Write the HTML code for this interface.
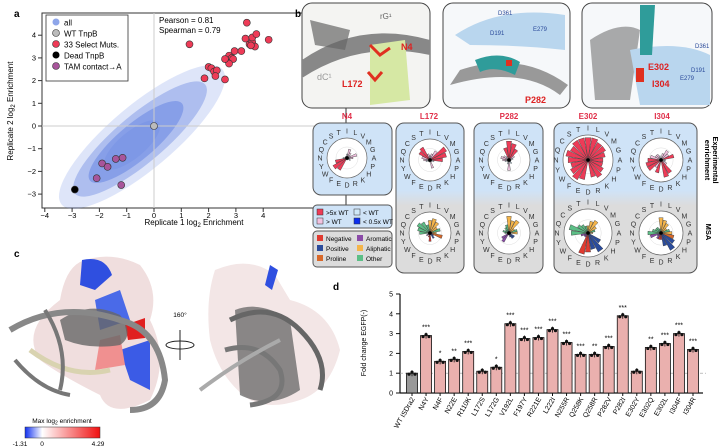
<!DOCTYPE html>
<html><head><meta charset="utf-8">
<style>
body{margin:0;background:#fff;font-family:"Liberation Sans",sans-serif;}
svg{display:block}
text{font-family:"Liberation Sans",sans-serif;}
</style></head>
<body>
<svg id="fig" width="720" height="448" viewBox="0 0 720 448">
<!-- Panel a -->
<g id="pa">
<text x="14" y="17" font-size="10" font-weight="bold">a</text>
<rect x="42" y="13" width="304" height="195" fill="none" stroke="#333" stroke-width="1"/>
<g id="cloud" fill="#7d97e6">
<ellipse cx="142" cy="137" rx="105" ry="32" transform="rotate(-40 142 137)" opacity="0.25"/>
<ellipse cx="140" cy="139" rx="85" ry="24" transform="rotate(-40 140 139)" opacity="0.5"/>
<ellipse cx="136" cy="142" rx="60" ry="18" transform="rotate(-40 136 142)" opacity="0.8"/>
<ellipse cx="132" cy="145" rx="35" ry="13" transform="rotate(-40 132 145)" opacity="0.9"/>
</g>
<g id="a-axes"></g>
<g id="a-pts"></g>
<g>
<rect x="46" y="15" width="82" height="66" fill="#fff" stroke="#333" stroke-width="0.8"/>
<circle cx="56" cy="22" r="3.5" fill="#8ea6ea"/><text x="64" y="25.5" font-size="8">all</text>
<circle cx="56" cy="33" r="3.5" fill="#bbb" stroke="#333" stroke-width="0.6"/><text x="64" y="36.5" font-size="8">WT TnpB</text>
<circle cx="56" cy="44" r="3.5" fill="#ee3b57" stroke="#333" stroke-width="0.6"/><text x="64" y="47.5" font-size="8">33 Select Muts.</text>
<circle cx="56" cy="55" r="3.5" fill="#000"/><text x="64" y="58.5" font-size="8">Dead TnpB</text>
<circle cx="56" cy="66" r="3.5" fill="#a8559b" stroke="#333" stroke-width="0.6"/><text x="64" y="69.5" font-size="8">TAM contact→A</text>
</g>
<text x="159" y="23" font-size="8">Pearson = 0.81</text>
<text x="159" y="33" font-size="8">Spearman = 0.79</text>
<text x="194" y="225" font-size="8" text-anchor="middle">Replicate 1 log<tspan font-size="6" dy="2">2</tspan><tspan dy="-2"> Enrichment</tspan></text>
<text transform="translate(13 111) rotate(-90)" font-size="8" text-anchor="middle">Replicate 2 log<tspan font-size="6" dy="2">2</tspan><tspan dy="-2"> Enrichment</tspan></text>
</g>

<!-- Panel b -->
<g>
<text x="295" y="17" font-size="10" font-weight="bold">b</text>
<g>
<rect x="302" y="3" width="128" height="105" rx="10" fill="#f4f4f2" stroke="#444"/>
<path d="M302 60 Q360 20 430 40 L430 55 Q360 40 302 78Z" fill="#888"/>
<path d="M310 20 L350 30 L345 50 L315 45Z" fill="#666" opacity="0.7"/>
<path d="M370 45 L405 40 L410 100 L370 105Z" fill="#d6e8a4"/>
<path d="M370 45 L380 55 L390 48" stroke="#e03020" stroke-width="3" fill="none"/>
<path d="M368 72 L375 80 L382 72" stroke="#e03020" stroke-width="3" fill="none"/>
<text x="380" y="19" font-size="8" fill="#666">rG¹</text>
<text x="317" y="80" font-size="9" fill="#999">dC¹</text>
<text x="401" y="50" font-size="9" fill="#d22" font-weight="bold">N4</text>
<text x="342" y="87" font-size="9" fill="#d22" font-weight="bold">L172</text>
</g>
<g>
<rect x="443" y="3" width="127" height="105" rx="10" fill="#f6f8fa" stroke="#444"/>
<path d="M455 35 Q500 5 565 15 L565 50 Q520 45 470 45Z" fill="#b9d6ee"/>
<path d="M460 70 Q520 50 568 85 L560 95 Q520 65 450 85Z" fill="#999"/>
<path d="M475 60 Q500 50 520 62 L515 75 Q495 65 480 72Z" fill="#2f9c9a"/>
<rect x="506" y="60" width="6" height="6" fill="#e03020"/>
<text x="525" y="103" font-size="9" fill="#d22" font-weight="bold">P282</text>
<text x="490" y="35" font-size="6" fill="#2a4a9a">D191</text>
<text x="533" y="31" font-size="6" fill="#2a4a9a">E279</text>
<text x="498" y="15" font-size="6" fill="#2a4a9a">D361</text>
</g>
<g>
<rect x="582" y="3" width="130" height="105" rx="10" fill="#f6f8fa" stroke="#444"/>
<path d="M590 40 Q620 20 640 30 L630 100 L595 100Z" fill="#888" opacity="0.7"/>
<path d="M630 50 Q680 40 710 55 L710 105 L640 105Z" fill="#b9d6ee"/>
<path d="M640 5 L655 5 L652 55 L640 55Z" fill="#2f9c9a"/>
<rect x="636" y="68" width="8" height="14" fill="#e03020"/>
<text x="648" y="70" font-size="9" fill="#d22" font-weight="bold">E302</text>
<text x="652" y="87" font-size="9" fill="#d22" font-weight="bold">I304</text>
<text x="695" y="48" font-size="6" fill="#2a4a9a">D361</text>
<text x="691" y="72" font-size="6" fill="#2a4a9a">D191</text>
<text x="680" y="80" font-size="6" fill="#2a4a9a">E279</text>
</g>
<defs><linearGradient id="bg" x1="0" y1="0" x2="0" y2="1"><stop offset="0" stop-color="#cfe3f7"/><stop offset="0.45" stop-color="#cfe3f7"/><stop offset="0.55" stop-color="#dcdcdc"/><stop offset="1" stop-color="#dcdcdc"/></linearGradient></defs>
<rect x="313" y="123" width="79" height="72" rx="8" fill="#cfe3f7" stroke="#555"/>
<rect x="396" y="123" width="68" height="150" rx="8" fill="url(#bg)" stroke="#555"/>
<rect x="474" y="123" width="69" height="150" rx="8" fill="url(#bg)" stroke="#555"/>
<rect x="554" y="123" width="143" height="150" rx="8" fill="url(#bg)" stroke="#555"/>
<g font-size="8" font-weight="bold" fill="#e0304a" text-anchor="middle">
<text x="347" y="119">N4</text>
<text x="429" y="119">L172</text>
<text x="509" y="119">P282</text>
<text x="588" y="119">E302</text>
<text x="662" y="119">I304</text>
</g>
<text transform="translate(713 160) rotate(90)" font-size="7.5" font-weight="bold" text-anchor="middle">Experimental</text>
<text transform="translate(705 160) rotate(90)" font-size="7.5" font-weight="bold" text-anchor="middle">enrichment</text>
<text transform="translate(706 232) rotate(90)" font-size="7.5" font-weight="bold" text-anchor="middle">MSA</text>
<g id="polars"></g>
<g font-size="6.5">
<rect x="313" y="205" width="79" height="23" rx="4" fill="#cfe3f7" stroke="#555"/>
<rect x="317" y="209" width="6" height="6" fill="#ee3b57" stroke="#333" stroke-width="0.5"/><text x="326" y="215">&gt;5x WT</text>
<rect x="354" y="209" width="6" height="6" fill="#cfe8f8" stroke="#333" stroke-width="0.5"/><text x="363" y="215">&lt; WT</text>
<rect x="317" y="218" width="6" height="6" fill="#f2c2e0" stroke="#333" stroke-width="0.5"/><text x="326" y="224">&gt; WT</text>
<rect x="354" y="218" width="6" height="6" fill="#0b2eef" stroke="#333" stroke-width="0.5"/><text x="363" y="224">&lt; 0.5x WT</text>
</g>
<g font-size="6.5">
<rect x="313" y="231" width="79" height="36" rx="4" fill="#dcdcdc" stroke="#555"/>
<rect x="317" y="235" width="6" height="6" fill="#e03a30"/><text x="326" y="241">Negative</text>
<rect x="357" y="235" width="6" height="6" fill="#8a4aa8"/><text x="366" y="241">Aromatic</text>
<rect x="317" y="245" width="6" height="6" fill="#2b4c9c"/><text x="326" y="251">Positive</text>
<rect x="357" y="245" width="6" height="6" fill="#f5b54a"/><text x="366" y="251">Aliphatic</text>
<rect x="317" y="255" width="6" height="6" fill="#d8682a"/><text x="326" y="261">Proline</text>
<rect x="357" y="255" width="6" height="6" fill="#5cbf86"/><text x="366" y="261">Other</text>
</g>
</g>

<!-- Panel c -->
<g>
<text x="14" y="257" font-size="10" font-weight="bold">c</text>
<g>
<path d="M80 262 Q110 250 140 265 Q160 290 150 320 Q170 360 150 400 Q110 420 100 395 Q60 375 40 360 Q20 330 60 300 Q65 270 80 262Z" fill="#f0dede"/>
<path d="M82 260 Q105 255 112 275 L95 290 L80 285Z" fill="#2f4fe0"/>
<path d="M95 300 L120 290 L130 320 L100 330Z" fill="#4a6ae8"/>
<path d="M120 350 L150 340 L150 390 L130 380Z" fill="#3b5be6"/>
<path d="M100 340 L120 335 L125 365 L95 370Z" fill="#f09090"/>
<path d="M125 325 L145 318 L145 338 L128 340Z" fill="#e02020"/>
<path d="M60 320 Q90 300 120 315 Q135 335 120 345 Q90 350 65 340Z" fill="#666" opacity="0.8"/>
<path d="M10 330 Q60 300 120 320 Q160 330 165 380 Q160 410 130 410" stroke="#888" stroke-width="6" fill="none"/>
<path d="M30 350 Q70 380 110 370" stroke="#d9d3b0" stroke-width="5" fill="none"/>
<path d="M45 310 Q70 350 60 390" stroke="#777" stroke-width="4" fill="none"/>
<path d="M15 360 Q40 390 70 395" stroke="#777" stroke-width="4" fill="none"/>
</g>
<text x="180" y="317" font-size="6.5" text-anchor="middle">160°</text>
<ellipse cx="180" cy="345" rx="14" ry="4" fill="none" stroke="#222"/>
<line x1="180" y1="330" x2="180" y2="360" stroke="#222"/>
<g>
<path d="M215 270 Q250 255 275 275 L290 300 Q330 310 340 350 Q330 390 300 400 Q270 410 250 400 Q220 380 210 340 Q205 300 215 270Z" fill="#f3e6e6"/>
<path d="M270 265 L278 270 L272 290 L265 285Z" fill="#2f4fe0"/>
<path d="M235 310 Q260 300 290 320 L300 390 Q270 410 240 395Z" fill="#666" opacity="0.75"/>
<path d="M230 320 Q270 300 300 330 Q330 360 320 390" stroke="#666" stroke-width="5" fill="none"/>
<path d="M225 350 Q260 340 280 370 Q290 400 250 405" stroke="#777" stroke-width="5" fill="none"/>
<path d="M200 390 Q240 360 280 340" stroke="#aaa" stroke-width="4" fill="none"/>
</g>
<defs><linearGradient id="cb"><stop offset="0" stop-color="#1030f0"/><stop offset="0.23" stop-color="#fff"/><stop offset="1" stop-color="#f01010"/></linearGradient></defs>
<text x="62" y="423" font-size="6.5" text-anchor="middle">Max log<tspan font-size="5" dy="1.5">2</tspan><tspan dy="-1.5"> enrichment</tspan></text>
<rect x="25" y="427" width="75" height="11" fill="url(#cb)" stroke="#333" stroke-width="0.5"/>
<g font-size="6.5" text-anchor="middle"><text x="20" y="446">-1.31</text><text x="42" y="446">0</text><text x="98" y="446">4.29</text></g>
</g>

<!-- Panel d -->
<g>
<text x="333" y="290" font-size="10" font-weight="bold">d</text>
<g id="d-axes"></g>
<g id="d-bars"></g>
<text transform="translate(366 343) rotate(-90)" font-size="7" text-anchor="middle">Fold change EGFP(-)</text>
</g>
</svg>
<script>
const NS='http://www.w3.org/2000/svg';
function mk(tag,attrs,parent){const e=document.createElementNS(NS,tag);for(const k in attrs)e.setAttribute(k,attrs[k]);parent.appendChild(e);return e;}
// ---------- Panel a data ----------
const selectX=[1.3,3.4,2.0,2.1,2.2,2.3,2.25,1.85,2.6,2.7,2.75,2.85,2.9,2.95,3.2,3.35,3.5,3.6,3.6,3.75,3.7,4.2,2.75,2.6,3.55];
const selectY=[3.6,4.55,2.6,2.55,2.4,2.45,2.2,2.1,2.05,2.9,3.1,3.0,2.95,3.3,3.3,3.85,3.6,3.7,3.9,4.05,3.5,3.8,2.75,2.95,3.55];
const tamX=[-1.9,-1.7,-1.4,-1.15,-2.1,-1.2];
const tamY=[-1.65,-1.8,-1.45,-1.4,-2.3,-2.6];
const wtX=[0], wtY=[0];
const deadX=[-2.9], deadY=[-2.8];
const aXTicks=[-4,-3,-2,-1,0,1,2,3,4];
const aYTicks=[-3,-2,-1,0,1,2,3,4];
const ax=v=>154+v*27.3, ay=v=>126-v*22.7;
const aA=document.getElementById('a-axes');
let l=mk('line',{x1:ax(0),y1:13,x2:ax(0),y2:208,stroke:'#ccc','stroke-width':1},aA);


l=mk('line',{x1:42,y1:ay(0),x2:346,y2:ay(0),stroke:'#ccc','stroke-width':1},aA);


aXTicks.forEach(v=>{mk('line',{x1:ax(v),y1:208,x2:ax(v),y2:212,stroke:'#333'},aA);
 const t=mk('text',{x:ax(v),y:218,'font-size':7.5,'text-anchor':'middle'},aA);t.textContent=v<0?'−'+(-v):v;
 
 });
aYTicks.forEach(v=>{mk('line',{x1:38,y1:ay(v),x2:42,y2:ay(v),stroke:'#333'},aA);
 const t=mk('text',{x:36,y:ay(v)+2.5,'font-size':7.5,'text-anchor':'end'},aA);t.textContent=v<0?'−'+(-v):v;
 
 });
const aP=document.getElementById('a-pts');
function pts(xs,ys,fill,name){xs.forEach((x,i)=>{const c=mk('circle',{cx:ax(x),cy:ay(ys[i]),r:3.5,fill:fill,stroke:'#333','stroke-width':0.6},aP);
 
 });}
pts(selectX,selectY,'#ee3b57','select-mutant-point');
pts(tamX,tamY,'#a8559b','tam-contact-point');
pts(wtX,wtY,'#bbb','wt-point');
pts(deadX,deadY,'#000','dead-point');
// ---------- Panel b polar ----------
const aaLetters=['I','L','V','M','G','A','P','H','K','R','D','E','F','W','Y','N','Q','C','S','T'];
const n4Exp=[0.2,0.45,0.3,0.2,0.5,0.3,0.15,0.2,0.1,0.1,0.1,0.1,0.7,0.8,0.6,0.2,0.1,0.1,0.1,0.1];
const l172Exp=[0.2,0.3,0.5,0.9,0.8,0.6,0.2,0.1,0.1,0.4,0.1,0.1,0.1,0.1,0.2,0.3,0.4,0.6,0.7,0.3];
const p282Exp=[0.9,0.8,0.6,0.3,0.2,0.1,0.1,0.1,0.2,0.1,0.5,0.2,0.1,0.1,0.2,0.3,0.4,0.3,0.2,0.6];
const e302Exp=[0.9,0.9,0.8,0.8,0.7,0.6,0.6,0.7,0.8,0.7,0.1,0.8,0.9,0.8,0.7,0.8,0.9,0.8,0.9,0.9];
const i304Exp=[0.1,0.3,0.5,0.4,0.6,0.2,0.2,0.3,0.7,0.8,0.1,0.6,0.4,0.7,0.7,0.6,0.5,0.3,0.3,0.2];
const l172Msa=[0.6,0.7,0.6,0.4,0.5,0.3,0.6,0.2,0.3,0.1,0.4,0.2,0.1,0.2,0.1,0.5,0.6,0.7,0.6,0.4];
const p282Msa=[0.8,0.6,0.7,0.3,0.4,0.4,0.1,0.3,0.3,0.2,0.1,0.1,0.5,0.4,0.1,0.2,0.3,0.2,0.3,0.4];
const e302Msa=[0.3,0.5,0.6,0.4,0.3,0.2,0.1,0.6,0.9,0.7,0.8,0.9,0.2,0.2,0.3,0.7,0.8,0.5,0.4,0.3];
const i304Msa=[0.7,0.6,0.5,0.3,0.4,0.5,0.6,0.7,0.9,0.6,0.3,0.3,0.3,0.2,0.5,0.6,0.4,0.3,0.3,0.2];
const expCols=v=>v>0.5?'#ee3b57':(v>0.25?'#f2c2e0':'#cfe8f8');
const grp={I:'#f5b54a',L:'#f5b54a',V:'#f5b54a',M:'#f5b54a',A:'#f5b54a',G:'#5cbf86',P:'#d8682a',H:'#2b4c9c',K:'#2b4c9c',R:'#2b4c9c',D:'#e03a30',E:'#e03a30',F:'#8a4aa8',W:'#8a4aa8',Y:'#8a4aa8',N:'#5cbf86',Q:'#5cbf86',C:'#5cbf86',S:'#5cbf86',T:'#5cbf86'};
const polarSpecs=[['n4-exp',347,158,20,n4Exp,1],['l172-exp',430,160,21,l172Exp,1],['p282-exp',509,160,21,p282Exp,1],['e302-exp',588,160,25,e302Exp,1],['i304-exp',661,160,22,i304Exp,1],
 ['l172-msa',430,233,21,l172Msa,0],['p282-msa',509,233,21,p282Msa,0],['e302-msa',588,233,24,e302Msa,0],['i304-msa',661,233,22,i304Msa,0]];
const PG=document.getElementById('polars');
polarSpecs.forEach(s=>{const [nm,cx,cy,r,vals,isExp]=s;
 const g=mk('g',{},PG);
 
 
 mk('circle',{cx:cx,cy:cy,r:r,fill:'#fff',stroke:'#666','stroke-width':0.7},g);
 mk('circle',{cx:cx,cy:cy,r:r*0.55,fill:'none',stroke:'#ddd','stroke-width':0.5},g);
 const n=aaLetters.length, step=2*Math.PI/n;
 vals.forEach((v,i)=>{const a0=-Math.PI/2+i*step-step/2+0.02, a1=a0+step-0.04, rr=r*v;
  const p=mk('path',{d:`M${cx} ${cy}L${cx+rr*Math.cos(a0)} ${cy+rr*Math.sin(a0)}L${cx+rr*Math.cos(a1)} ${cy+rr*Math.sin(a1)}Z`,fill:isExp?expCols(v):grp[aaLetters[i]],stroke:'#333','stroke-width':0.4},g);
  
  });
 mk('circle',{cx:cx,cy:cy,r:1.8,fill:'#000'},g);
 aaLetters.forEach((L,i)=>{const a=-Math.PI/2+i*step, rl=r+7;
  const t=mk('text',{x:cx+rl*Math.cos(a),y:cy+rl*Math.sin(a)+2.5,'font-size':7,'text-anchor':'middle',fill:'#333'},g);t.textContent=L;});
});
// ---------- Panel d data ----------
const dLabels=['WT ISDra2','N4Y','N4F','N22E','R110K','L172S','L172G','V192L','F197Y','R221E','L222I','N255R','Q258K','Q258R','P282V','P282I','E302Y','E302Q','E302L','I304F','I304R'];
const dValues=[1.0,2.9,1.6,1.7,2.1,1.1,1.3,3.5,2.75,2.8,3.2,2.55,1.95,1.95,2.35,3.9,1.1,2.3,2.5,3.0,2.2];
const dStars=['','***','*','**','***','','*','***','***','***','***','***','***','**','***','***','','**','***','***','***'];
const dTicks=[0,1,2,3,4,5];
const dx=i=>412+i*14.05, dy=v=>393-v*19.8;
const dA=document.getElementById('d-axes');
mk('line',{x1:400,y1:dy(5),x2:400,y2:393,stroke:'#111','stroke-width':1.2},dA);
mk('line',{x1:400,y1:393,x2:703,y2:393,stroke:'#111','stroke-width':1.2},dA);
mk('line',{x1:400,y1:dy(1),x2:706,y2:dy(1),stroke:'#999','stroke-width':0.6,'stroke-dasharray':'3 2'},dA);
dTicks.forEach(v=>{mk('line',{x1:396,y1:dy(v),x2:400,y2:dy(v),stroke:'#111'},dA);
 const t=mk('text',{x:393,y:dy(v)+2.5,'font-size':7,'text-anchor':'end'},dA);t.textContent=v;
 
 });
const dB=document.getElementById('d-bars');
dValues.forEach((v,i)=>{const x=dx(i);
 const b=mk('rect',{x:x-5.5,y:dy(v),width:11,height:393-dy(v),fill:i==0?'#999':'#eab0ae',stroke:'#111','stroke-width':0.8},dB);
 
 
 mk('line',{x1:x,y1:dy(v)-3,x2:x,y2:dy(v)+3,stroke:'#111','stroke-width':0.8},dB);
 [-3,0,3].forEach((o,k)=>mk('circle',{cx:x+o,cy:dy(v)+(k==1?-1:1),r:1.6,fill:'#111'},dB));
 if(dStars[i]){const s=mk('text',{x:x,y:dy(v)-6,'font-size':7,'text-anchor':'middle'},dB);s.textContent=dStars[i];
  
  }
 mk('line',{x1:x,y1:393,x2:x,y2:396,stroke:'#111'},dB);
 const t=mk('text',{transform:`translate(${x+3} 399) rotate(-60)`,'font-size':7,'text-anchor':'end'},dB);t.textContent=dLabels[i];
 
 
});
</script>
</body></html>
